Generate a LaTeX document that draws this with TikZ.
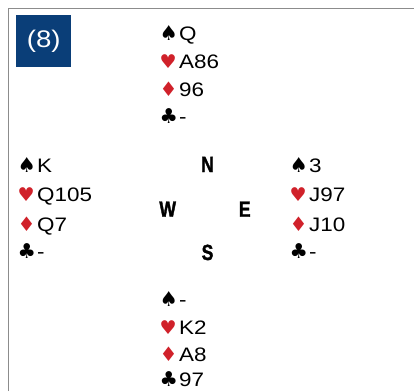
\documentclass[tikz,border=0pt]{standalone}
\usepackage{fontspec}
\setmainfont{Liberation Sans}
\newfontfamily\handfont[FakeStretch=1.15]{Liberation Sans}
\newfontfamily\dirfont[FakeStretch=0.8,FakeBold=1.5]{Liberation Sans Bold}
\newfontfamily\suitfont{DejaVu Sans}
\definecolor{suitred}{RGB}{208,33,42}
\definecolor{boxblue}{RGB}{10,62,120}
\definecolor{framegray}{RGB}{140,140,140}
\newcommand{\SP}{{\suitfont\fontsize{20.5}{20}\selectfont ♠}}
\newcommand{\HE}{{\suitfont\fontsize{19}{20}\selectfont\color{suitred}♥}}
\newcommand{\DI}{{\suitfont\fontsize{20}{20}\selectfont\color{suitred}♦}}
\newcommand{\CL}{{\suitfont\fontsize{20.5}{20}\selectfont ♣}}
\newcommand{\suitrow}[5]{\node[handtxt] (#1) at (#2,#3) {\makebox[19pt][l]{\hspace*{-0.5pt}#4}#5};}
\tikzset{
  handtxt/.style={anchor=base west, inner sep=0pt, font=\handfont\fontsize{19.5}{20}\selectfont},
  dirtxt/.style={anchor=base, inner sep=0pt, font=\dirfont\fontsize{22}{22}\selectfont},
  numbox/.style={fill=boxblue, text=white, minimum width=55pt, minimum height=51.5pt, inner sep=0pt, font=\handfont\fontsize{24}{24}\selectfont},
  frameline/.style={draw=framegray, line width=1.3pt}
}
\begin{document}
\begin{tikzpicture}[x=1pt,y=-1pt]
\useasboundingbox (0,0) rectangle (414,391);
\coordinate (fa) at (8.5,391);
\coordinate (fb) at (8.5,8.5);
\coordinate (fc) at (414,8.5);
\draw[frameline] (fa) -- (fb) -- (fc);
\node[numbox, anchor=north west] (num) at (16,15) {(8)};
% North
\suitrow{n1}{160}{40.5}{\SP}{Q}
\suitrow{n2}{160}{68}{\HE}{A86}
\suitrow{n3}{160}{96}{\DI}{96}
\suitrow{n4}{160}{123}{\CL}{-}
% West
\suitrow{w1}{18}{172}{\SP}{K}
\suitrow{w2}{18}{201}{\HE}{Q105}
\suitrow{w3}{18}{231}{\DI}{Q7}
\suitrow{w4}{18}{258}{\CL}{-}
% East
\suitrow{e1}{290}{172}{\SP}{3}
\suitrow{e2}{290}{201}{\HE}{J97}
\suitrow{e3}{290}{231}{\DI}{J10}
\suitrow{e4}{290}{258}{\CL}{-}
% South
\suitrow{s1}{160}{306}{\SP}{-}
\suitrow{s2}{160}{334}{\HE}{K2}
\suitrow{s3}{160}{361}{\DI}{A8}
\suitrow{s4}{160}{386.5}{\CL}{97}
% Compass
\node[dirtxt] (dN) at (207.5,172) {N};
\node[dirtxt] (dW) at (167.7,216.7) {W};
\node[dirtxt] (dE) at (244.7,216.7) {E};
\node[dirtxt] (dS) at (207.5,260) {S};
\end{tikzpicture}
\end{document}
